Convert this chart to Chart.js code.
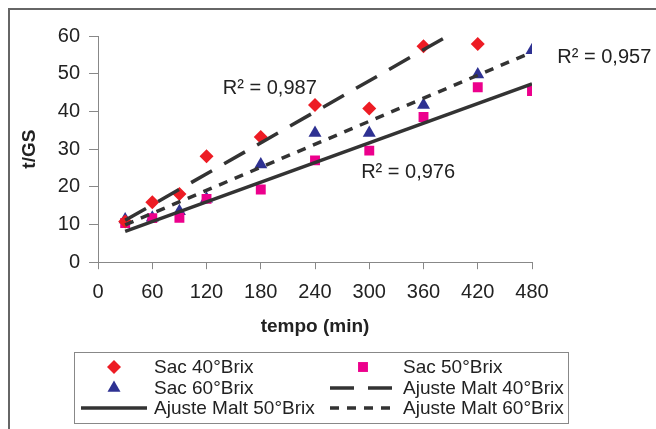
<!DOCTYPE html>
<html>
<head>
<meta charset="utf-8">
<script src="https://cdn.jsdelivr.net/npm/chart.js@4/dist/chart.umd.min.js"></script>
<style>
  html, body { margin: 0; padding: 0; background: #fff; overflow: hidden; }
  #frame { position: absolute; left: 8px; top: 8px; width: 700px; height: 500px; border: 2px solid #666; }
  #wrap { position: absolute; left: 0; top: 0; width: 656px; height: 429px; }
</style>
</head>
<body>
<div id="frame"></div>
<div id="wrap"><canvas id="chart" width="656" height="429"></canvas></div>
<script>
// values
const minutes = [30, 60, 90, 120, 180, 240, 300, 360, 420, 480];
const sac40 = [10.8, 15.9, 18.1, 28.1, 33.2, 41.7, 40.8, 57.3, 57.9, null];
const sac50 = [10.4, 11.7, 11.8, 16.8, 19.3, 27.0, 29.6, 38.5, 46.4, 45.4];
const sac60 = [11.3, 11.8, 13.5, 16.8, 25.9, 34.3, 34.3, 41.7, 49.8, 56.2];

// fitted lines, ends
const fitX = [30, 480];
const fit40 = [11.1, 72.8];
const fit50 = [8.2, 47.3];
const fit60 = [9.9, 55.7];

const xTicks = [0, 60, 120, 180, 240, 300, 360, 420, 480];
const yTicks = [0, 10, 20, 30, 40, 50, 60];
const seriesNames = ['Sac 40°Brix', 'Sac 50°Brix', 'Sac 60°Brix',
  'Ajuste Malt 40°Brix', 'Ajuste Malt 50°Brix', 'Ajuste Malt 60°Brix'];
const r2Texts = ['R² = 0,987', 'R² = 0,957', 'R² = 0,976'];

const FONT = '"Liberation Sans", Arial, sans-serif';
const TEXT = '#222';
const LINE = '#333';

function toPoints(xs, ys) {
  const out = [];
  for (let i = 0; i < xs.length; i++) {
    if (ys[i] !== null) out.push({ x: xs[i], y: ys[i] });
  }
  return out;
}

// R² labels anchored in data units
const r2Plugin = {
  id: 'r2',
  afterDatasetsDraw(chart) {
    const { ctx, scales } = chart;
    const anchors = [[138, 46], [508, 54.4], [291, 23.9]];
    ctx.save();
    ctx.font = '20px ' + FONT;
    ctx.fillStyle = TEXT;
    ctx.textBaseline = 'middle';
    ctx.textAlign = 'left';
    for (let i = 0; i < r2Texts.length; i++) {
      ctx.fillText(r2Texts[i], scales.x.getPixelForValue(anchors[i][0]), scales.y.getPixelForValue(anchors[i][1]));
    }
    ctx.restore();
  }
};

// boxed legend, two columns
const boxLegend = {
  id: 'boxLegend',
  afterDraw(chart) {
    const ctx = chart.ctx;
    const box = { left: 74, top: 352, right: 568, bottom: 423 };
    const colX = [114, 363];
    const textX = [154, 403];
    const rowY = [367, 388, 408];
    ctx.save();
    ctx.strokeStyle = '#888';
    ctx.lineWidth = 1;
    ctx.strokeRect(box.left + 0.5, box.top + 0.5, box.right - box.left, box.bottom - box.top);
    ctx.font = '19px ' + FONT;
    ctx.textBaseline = 'middle';
    ctx.fillStyle = TEXT;

    chart.data.datasets.forEach((ds, i) => {
      const col = i % 2;
      const row = Math.floor(i / 2);
      const cx = colX[col];
      const cy = rowY[row];
      if (ds.showLine) {
        ctx.save();
        ctx.strokeStyle = ds.borderColor;
        ctx.lineWidth = ds.borderWidth;
        ctx.setLineDash(ds.borderDash || []);
        ctx.beginPath();
        ctx.moveTo(cx - 33, cy);
        ctx.lineTo(cx + 33, cy);
        ctx.stroke();
        ctx.restore();
      } else {
        ctx.save();
        ctx.fillStyle = ds.backgroundColor;
        ctx.strokeStyle = ds.borderColor;
        Chart.helpers.drawPoint(ctx, {
          pointStyle: ds.pointStyle, rotation: 0, radius: ds.pointRadius, borderWidth: 0
        }, cx, cy);
        ctx.restore();
      }
      ctx.fillStyle = TEXT;
      ctx.fillText(ds.label, textX[col], cy + 1);
    });
    ctx.restore();
  }
};

const pointSet = (label, ys, color, style, r) => ({
  label: label,
  data: toPoints(minutes, ys),
  showLine: false,
  pointStyle: style,
  pointRadius: r,
  pointHoverRadius: r,
  pointBorderWidth: 0,
  backgroundColor: color,
  borderColor: color,
  order: 2
});

const fitSet = (label, ys, dash) => ({
  label: label,
  data: toPoints(fitX, ys),
  showLine: true,
  pointRadius: 0,
  borderColor: LINE,
  backgroundColor: LINE,
  borderWidth: 3.5,
  borderDash: dash,
  order: 1
});

const ctx = document.getElementById('chart').getContext('2d');
new Chart(ctx, {
  type: 'scatter',
  data: {
    datasets: [
      pointSet(seriesNames[0], sac40, '#ed1c24', 'rectRot', 7),
      pointSet(seriesNames[1], sac50, '#ec008c', 'rect', 7),
      pointSet(seriesNames[2], sac60, '#2e3192', 'triangle', 7.5),
      fitSet(seriesNames[3], fit40, [24, 14]),
      fitSet(seriesNames[4], fit50, []),
      fitSet(seriesNames[5], fit60, [9, 8])
    ]
  },
  options: {
    responsive: false,
    animation: false,
    events: [],
    layout: { padding: { left: 14, top: 36, right: 124, bottom: 87 } },
    plugins: {
      legend: { display: false },
      tooltip: { enabled: false }
    },
    scales: {
      x: {
        type: 'linear',
        min: 0,
        max: 480,
        afterBuildTicks: (scale) => { scale.ticks = xTicks.map(v => ({ value: v })); },
        grid: { drawOnChartArea: false, drawTicks: true, tickLength: 7, color: '#888' },
        border: { display: true, color: '#888', width: 1 },
        ticks: { color: TEXT, font: { family: FONT, size: 20 }, padding: 11, maxRotation: 0 },
        title: {
          display: true, text: 'tempo (min)', color: TEXT,
          font: { family: FONT, size: 19, weight: 'bold' }, padding: { top: 0, bottom: 4 }
        }
      },
      y: {
        type: 'linear',
        min: 0,
        max: 60,
        afterBuildTicks: (scale) => { scale.ticks = yTicks.map(v => ({ value: v })); },
        grid: { drawOnChartArea: false, drawTicks: true, tickLength: 9, color: '#888' },
        border: { display: true, color: '#888', width: 1 },
        ticks: { color: TEXT, font: { family: FONT, size: 20 }, padding: 9 },
        title: {
          display: true, text: 't/GS', color: TEXT,
          font: { family: FONT, size: 19, weight: 'bold' }, padding: { top: 4, bottom: 8 }
        }
      }
    }
  },
  plugins: [r2Plugin, boxLegend]
});
</script>
</body>
</html>
